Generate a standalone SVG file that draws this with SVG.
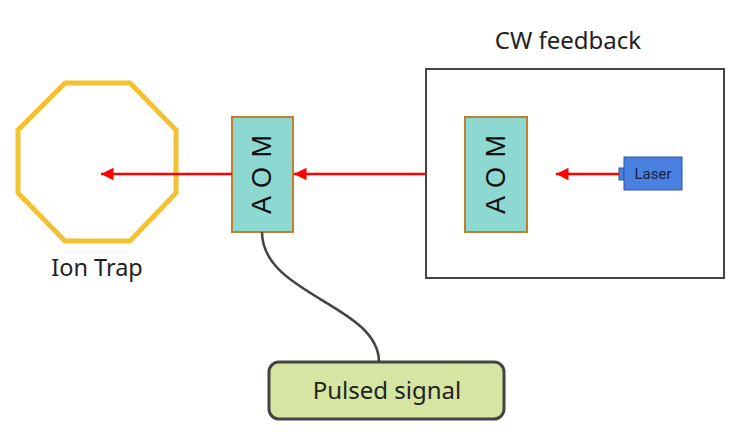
<svg xmlns="http://www.w3.org/2000/svg" width="734" height="436" viewBox="0 0 734 436">
<defs>
<style>
.lbl{font-family:"Noto Sans","Open Sans","Liberation Sans",sans-serif;fill:#222;}
.aom{fill:#8ED8D2;stroke:#C0802F;stroke-width:2;}
.aomt{font-family:"Liberation Sans",Arial,sans-serif;font-size:27px;fill:#111;letter-spacing:1px;}
.beam{stroke:#FF0000;stroke-width:2.5;fill:none;}
</style>
<marker id="ah" viewBox="0 0 10 10" refX="10" refY="5" markerWidth="7" markerHeight="5" markerUnits="strokeWidth" orient="auto">
<path d="M0,0 L10,5 L0,10 z" fill="#FF0000"/>
</marker>
</defs>
<rect width="734" height="436" fill="#fff"/>
<g id="ion-trap">
<polygon points="65,83 130,83 176,130 176,193 130,241 65,241 18,193 18,130" fill="none" stroke="#F2C233" stroke-width="5"/>
<text class="lbl" x="97" y="276" font-size="23.5" text-anchor="middle">Ion Trap</text>
</g>
<g id="cw-feedback">
<rect x="426" y="69" width="298" height="209" fill="#fff" stroke="#444" stroke-width="2"/>
<text class="lbl" x="568" y="49" font-size="24" text-anchor="middle">CW feedback</text>
</g>
<g id="aom1">
<rect class="aom" x="232" y="117" width="61" height="115"/>
<text class="aomt" transform="translate(271,174) rotate(-90)" text-anchor="middle">A O M</text>
</g>
<g id="aom2">
<rect class="aom" x="465" y="117" width="62" height="115"/>
<text class="aomt" transform="translate(505,174) rotate(-90)" text-anchor="middle">A O M</text>
</g>
<g id="laser">
<rect x="619" y="168" width="5" height="12" fill="#4A80E0" stroke="#2F55A8" stroke-width="1"/>
<rect x="624" y="157" width="58" height="33" fill="#4A80E0" stroke="#2F55A8" stroke-width="1"/>
<text x="653" y="179" font-family="Roboto,'Liberation Sans',sans-serif" font-size="15" fill="#1A2340" text-anchor="middle">Laser</text>
</g>
<g id="pulsed-signal">
<rect x="269" y="362" width="235" height="57" rx="10" fill="#D6E5A2" stroke="#444" stroke-width="3"/>
<text class="lbl" x="387" y="399" font-size="24" text-anchor="middle">Pulsed signal</text>
</g>
<g id="connectors">
<line class="beam" x1="232" y1="174" x2="101" y2="174" marker-end="url(#ah)"/>
<line class="beam" x1="426" y1="174" x2="294" y2="174" marker-end="url(#ah)"/>
<line class="beam" x1="619" y1="174" x2="556" y2="174" marker-end="url(#ah)"/>
<path d="M262,232 C262,295 379,305 379,362" fill="none" stroke="#444" stroke-width="2.5"/>
</g>
</svg>
